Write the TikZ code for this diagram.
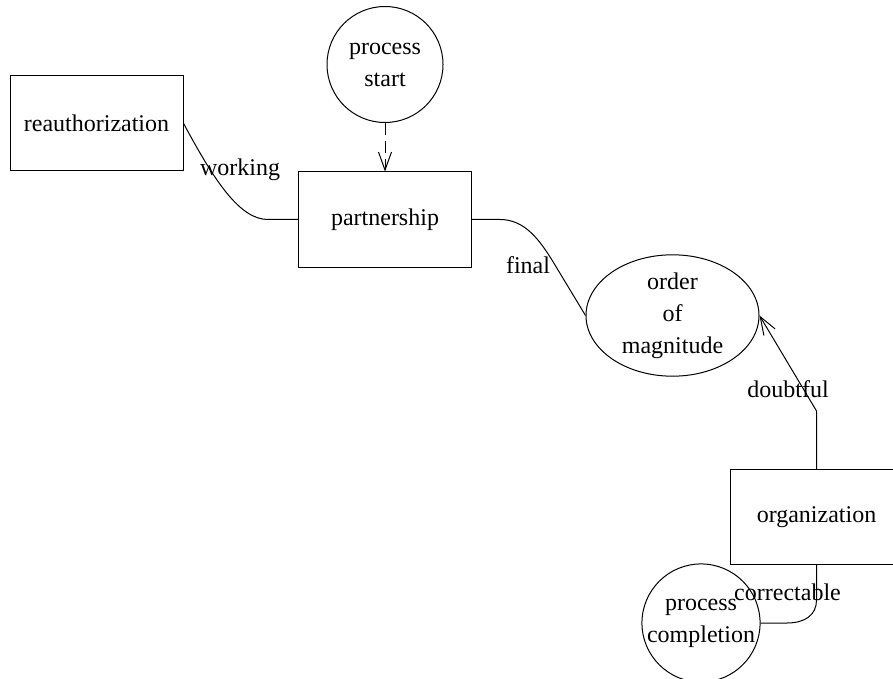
\documentclass[tikz,border=0pt]{standalone}
\usepackage{fontspec}
\setmainfont{Liberation Serif}
\usetikzlibrary{shapes.geometric,arrows.meta}
\begin{document}
\begin{tikzpicture}[x=0.5pt,y=-0.5pt,
  every node/.style={font=\fontsize{12}{16}\selectfont},
  box/.style={draw,rectangle,minimum width=86.5pt,minimum height=47.5pt,inner sep=0pt,line width=0.5pt},
  circ/.style={draw,circle,minimum size=58pt,inner sep=0pt,align=center,line width=0.5pt},
  ell/.style={draw,ellipse,minimum width=86.5pt,minimum height=47.5pt,inner sep=0pt,align=center,line width=0.5pt},
  conn/.style={line width=0.5pt},
  lbl/.style={inner sep=0pt},
  tip/.style={-{Straight Barb[length=9pt,width=6.5pt,line width=0.5pt]}}
]
\useasboundingbox (0,0) rectangle (893,679);
\node[box] (re) at (96.5,123.3) {reauthorization};
\node[circ] (ps) at (385,64.5) {process\\start};
\node[box] (pa) at (385,219.5) {partnership};
\node[ell] (om) at (672.5,315.5) {order\\of\\magnitude};
\node[box] (org) at (816.5,517) {organization};
\node[circ] (pc) at (701,623) {process\\completion};

\draw[conn] (re.east) .. controls (215,182) and (240,219.5) .. (268,219.5) -- (pa.west);
\draw[conn,dashed,dash pattern=on 6pt off 3pt,tip] (ps.south) -- (pa.north);
\draw[conn] (pa.east) -- (500,219.5) .. controls (525,219.5) and (540,240) .. (555,265) -- (om.west);
\draw[conn,tip] (org.north) -- (816.5,411) -- (om.east);
\draw[conn] (org.south) -- (816.5,600) .. controls (816.5,615) and (805,623) .. (787,623) -- (pc.east);

\node[lbl] (lw) at (240,170) {working};
\node[lbl] (lf) at (528,265) {final};
\node[lbl] (ld) at (788,389) {doubtful};
\node[lbl] (lc) at (787.5,592) {correctable};
\end{tikzpicture}
\end{document}
